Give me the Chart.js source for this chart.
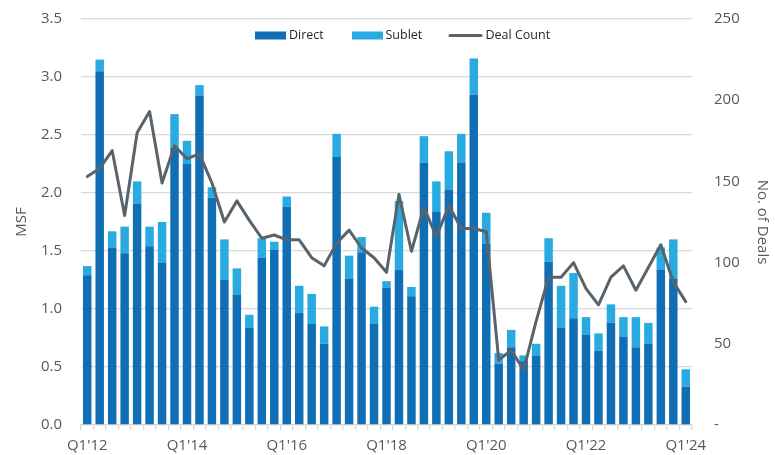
<!DOCTYPE html>
<html>
<head>
<meta charset="utf-8">
<script src="https://cdn.jsdelivr.net/npm/chart.js@4.4.1/dist/chart.umd.min.js"></script>
<style>
  html, body { margin: 0; padding: 0; background: #ffffff; }
  #wrap { width: 775px; height: 455px; position: relative; }
</style>
</head>
<body>
<div id="wrap"><canvas id="c"></canvas></div>
<script>
const categories = [
  "Q1'12","Q2'12","Q3'12","Q4'12","Q1'13","Q2'13","Q3'13","Q4'13",
  "Q1'14","Q2'14","Q3'14","Q4'14","Q1'15","Q2'15","Q3'15","Q4'15",
  "Q1'16","Q2'16","Q3'16","Q4'16","Q1'17","Q2'17","Q3'17","Q4'17",
  "Q1'18","Q2'18","Q3'18","Q4'18","Q1'19","Q2'19","Q3'19","Q4'19",
  "Q1'20","Q2'20","Q3'20","Q4'20","Q1'21","Q2'21","Q3'21","Q4'21",
  "Q1'22","Q2'22","Q3'22","Q4'22","Q1'23","Q2'23","Q3'23","Q4'23",
  "Q1'24"
];
const shownTickLabels = ["Q1'12","Q1'14","Q1'16","Q1'18","Q1'20","Q1'22","Q1'24"];

const direct = [1.29,3.05,1.53,1.48,1.91,1.54,1.40,2.39,2.25,2.84,1.96,1.25,1.12,0.84,1.44,1.51,
  1.88,0.97,0.87,0.70,2.31,1.26,1.49,0.87,1.18,1.34,1.11,2.26,1.84,2.03,2.26,2.85,
  1.56,0.53,0.67,0.55,0.60,1.41,0.84,0.92,0.78,0.64,0.88,0.76,0.67,0.70,1.34,1.26,0.33];
const sublet = [0.08,0.10,0.14,0.23,0.19,0.17,0.35,0.29,0.20,0.09,0.09,0.35,0.23,0.11,0.17,0.07,
  0.09,0.23,0.26,0.15,0.20,0.20,0.13,0.15,0.06,0.59,0.08,0.23,0.26,0.33,0.25,0.31,
  0.27,0.09,0.15,0.05,0.10,0.20,0.36,0.39,0.15,0.15,0.16,0.17,0.26,0.18,0.19,0.34,0.15];
const dealCount = [153,158,169,129,180,193,149,172,164,167,149,125,138,126,115,117,
  114,114,103,98,112,120,109,103,94,142,107,134,116,135,121,121,
  119,40,46,34,64,91,91,100,84,74,91,98,83,97,111,88,76];

const msfTicks = [0,0.5,1,1.5,2,2.5,3,3.5];
const dealTicks = [0,50,100,150,200,250];

const COLORS = { direct: '#0F6EB4', sublet: '#29ABE2', line: '#59636B', grid: '#D9D9D9', tick: '#595959' };
const FONT = "'Open Sans', 'Noto Sans', sans-serif";

const legendPlugin = {
  id: 'customLegend',
  afterDraw(chart) {
    const ctx = chart.ctx;
    ctx.save();
    ctx.font = '12.5px ' + FONT;
    ctx.textBaseline = 'middle';
    const y = 35.5;
    ctx.fillStyle = COLORS.direct;
    ctx.fillRect(255, 31.5, 31, 8);
    ctx.fillStyle = '#262626';
    ctx.fillText(chart.data.datasets[1].label, 289, y);
    ctx.fillStyle = COLORS.sublet;
    ctx.fillRect(352, 31.5, 31, 8);
    ctx.fillStyle = '#262626';
    ctx.fillText(chart.data.datasets[2].label, 385.5, y);
    ctx.strokeStyle = COLORS.line;
    ctx.lineWidth = 3;
    ctx.lineCap = 'round';
    ctx.beginPath();
    ctx.moveTo(450, y);
    ctx.lineTo(481, y);
    ctx.stroke();
    ctx.fillStyle = '#262626';
    ctx.fillText(chart.data.datasets[0].label, 485.5, y);
    ctx.restore();
  }
};

new Chart(document.getElementById('c'), {
  type: 'bar',
  data: {
    labels: categories,
    datasets: [
      {
        type: 'line', label: 'Deal Count', data: dealCount, yAxisID: 'y1',
        borderColor: COLORS.line, backgroundColor: COLORS.line, borderWidth: 3,
        pointRadius: 0, tension: 0, order: 0, borderJoinStyle: 'round', borderCapStyle: 'round'
      },
      {
        label: 'Direct', data: direct, yAxisID: 'y', backgroundColor: COLORS.direct,
        stack: 's', order: 1, barPercentage: 0.68, categoryPercentage: 1
      },
      {
        label: 'Sublet', data: sublet, yAxisID: 'y', backgroundColor: COLORS.sublet,
        stack: 's', order: 1, barPercentage: 0.68, categoryPercentage: 1
      }
    ]
  },
  options: {
    responsive: true,
    maintainAspectRatio: false,
    animation: false,
    layout: { padding: { top: 19, left: 0, right: 0, bottom: 0 } },
    plugins: { legend: { display: false }, tooltip: { enabled: false } },
    scales: {
      x: {
        stacked: true,
        grid: { display: true, drawOnChartArea: false, drawTicks: true, tickLength: 5, offset: true, color: COLORS.grid, lineWidth: 1.3 },
        border: { display: true, color: COLORS.grid, width: 1.3 },
        ticks: {
          autoSkip: false, maxRotation: 0, minRotation: 0, padding: 7,
          color: COLORS.tick, font: { family: FONT, size: 15 },
          callback: function(v, i) { const l = categories[i]; return shownTickLabels.includes(l) ? l : ''; }
        },
        afterFit(scale) { scale.height = 30; }
      },
      y: {
        stacked: true, position: 'left', min: 0, max: 3.5,
        afterBuildTicks(scale) { scale.ticks = msfTicks.map(v => ({ value: v })); },
        grid: { color: COLORS.grid, lineWidth: 1.3, drawTicks: true, tickLength: 19, tickColor: 'rgba(0,0,0,0)' },
        border: { display: false },
        ticks: { padding: 0, color: COLORS.tick, font: { family: FONT, size: 15 }, callback: v => Number(v).toFixed(1) },
        title: { display: true, text: 'MSF', color: COLORS.tick, font: { family: FONT, size: 15 }, padding: { top: 13, bottom: 0 } },
        afterFit(scale) { scale.width = 81; }
      },
      y1: {
        position: 'right', min: 0, max: 250,
        afterBuildTicks(scale) { scale.ticks = dealTicks.map(v => ({ value: v })); },
        grid: { display: true, drawOnChartArea: false, drawTicks: true, tickLength: 22, tickColor: 'rgba(0,0,0,0)', color: 'rgba(0,0,0,0)' },
        border: { display: false },
        ticks: { padding: 0, color: COLORS.tick, font: { family: FONT, size: 15 }, callback: v => v === 0 ? '-' : String(v) },
        title: { display: true, text: 'No. of Deals', color: COLORS.tick, font: { family: FONT, size: 15 }, padding: { top: 4, bottom: 0 } },
        afterFit(scale) { scale.width = 83; }
      }
    }
  },
  plugins: [legendPlugin]
});
</script>
</body>
</html>
